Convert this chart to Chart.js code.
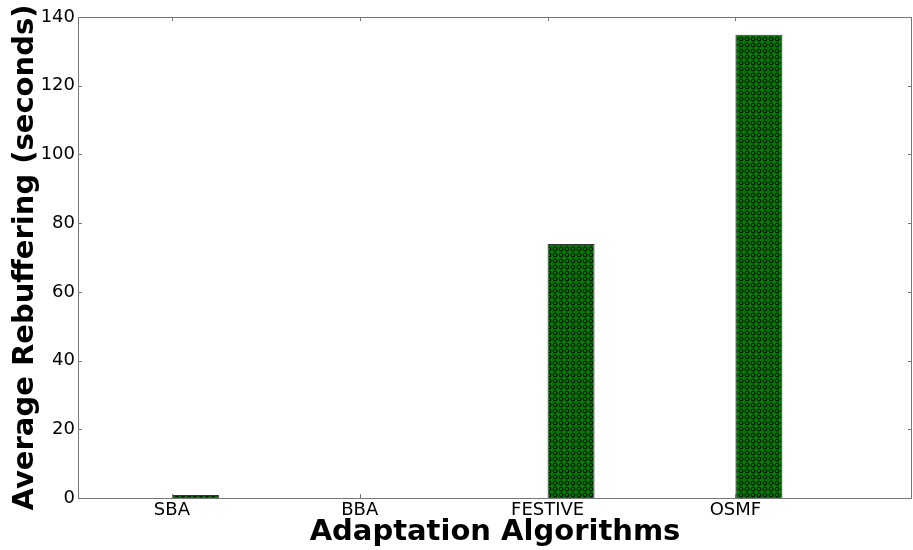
<!DOCTYPE html>
<html>
<head>
<meta charset="utf-8">
<script src="https://cdn.jsdelivr.net/npm/chart.js@4/dist/chart.umd.min.js"></script>
<style>
  html, body { margin: 0; padding: 0; background: #fff; }
  #wrap { width: 913px; height: 550px; }
</style>
</head>
<body>
<div id="wrap"><canvas id="chart" width="913" height="550"></canvas></div>
<script>
// data
const algorithms = ['SBA', 'BBA', 'FESTIVE', 'OSMF'];
const rebuffering = [0.9, 0, 73.9, 134.8];
const yTicks = [0, 20, 40, 60, 80, 100, 120, 140];

const BAR_W = 0.25;

// matplotlib 'o' hatch, green with small black rings
function makeHatch() {
    const c = document.createElement('canvas');
    c.width = 6; c.height = 6;
    const g = c.getContext('2d');
    g.fillStyle = '#007a00';
    g.fillRect(0, 0, 6, 6);
    g.strokeStyle = '#000';
    g.lineWidth = 1;
    g.beginPath();
    g.arc(3, 3, 1.9, 0, Math.PI * 2);
    g.stroke();
    return g.createPattern(c, 'repeat');
}

// frame + inward ticks on all four sides like old matplotlib
const framePlugin = {
    id: 'frame',
    afterDatasetsDraw(chart) {
        const ctx = chart.ctx;
        const a = chart.chartArea;
        const xs = chart.scales.x, ys = chart.scales.y;
        ctx.save();
        ctx.strokeStyle = '#777';
        ctx.lineWidth = 1;
        ctx.strokeRect(Math.round(a.left) + 0.5, Math.round(a.top) + 0.5,
            Math.round(a.right - a.left) - 1, Math.round(a.bottom - a.top));
        ctx.beginPath();
        xs.ticks.forEach(t => {
            const px = Math.round(xs.getPixelForValue(t.value)) + 0.5;
            ctx.moveTo(px, a.bottom); ctx.lineTo(px, a.bottom - 4);
            ctx.moveTo(px, a.top); ctx.lineTo(px, a.top + 4);
        });
        ys.ticks.forEach(t => {
            const py = Math.round(ys.getPixelForValue(t.value)) + 0.5;
            ctx.moveTo(a.left, py); ctx.lineTo(a.left + 4, py);
            ctx.moveTo(a.right, py); ctx.lineTo(a.right - 4, py);
        });
        ctx.stroke();
        ctx.restore();
    }
};

const ctx = document.getElementById('chart').getContext('2d');
new Chart(ctx, {
    type: 'bar',
    data: {
        datasets: [{
            data: rebuffering.map((v, i) => ({ x: i + BAR_W / 2, y: v })),
            backgroundColor: makeHatch(),
            borderColor: '#333',
            borderWidth: 1,
            barPercentage: BAR_W,
            categoryPercentage: 1
        }]
    },
    options: {
        responsive: false,
        animation: false,
        layout: { padding: { top: 17, right: 1 } },
        plugins: { legend: { display: false }, tooltip: { enabled: false } },
        scales: {
            x: {
                type: 'linear',
                offset: false,
                min: -0.5,
                max: 3.94,
                grid: { display: false, drawTicks: false },
                border: { display: false },
                afterBuildTicks: s => { s.ticks = algorithms.map((_, i) => ({ value: i })); },
                afterFit: s => { s.height = 52; },
                ticks: {
                    callback: v => algorithms[v],
                    color: '#000',
                    padding: 2,
                    maxRotation: 0,
                    font: { family: 'DejaVu Sans', size: 18 }
                },
                title: {
                    display: true,
                    text: 'Adaptation Algorithms',
                    color: '#000',
                    padding: 0,
                    font: { family: 'DejaVu Sans', size: 29, weight: 'bold' }
                }
            },
            y: {
                min: 0,
                max: 140,
                grid: { display: false, drawTicks: false },
                border: { display: false },
                afterBuildTicks: s => { s.ticks = yTicks.map(v => ({ value: v })); },
                afterFit: s => { s.width = 78; },
                ticks: {
                    color: '#000',
                    padding: 3,
                    font: { family: 'DejaVu Sans', size: 18 }
                },
                title: {
                    display: true,
                    text: 'Average Rebuffering (seconds)',
                    color: '#000',
                    padding: { top: 8, bottom: 0 },
                    font: { family: 'DejaVu Sans', size: 29, weight: 'bold' }
                }
            }
        }
    },
    plugins: [framePlugin]
});
</script>
</body>
</html>
